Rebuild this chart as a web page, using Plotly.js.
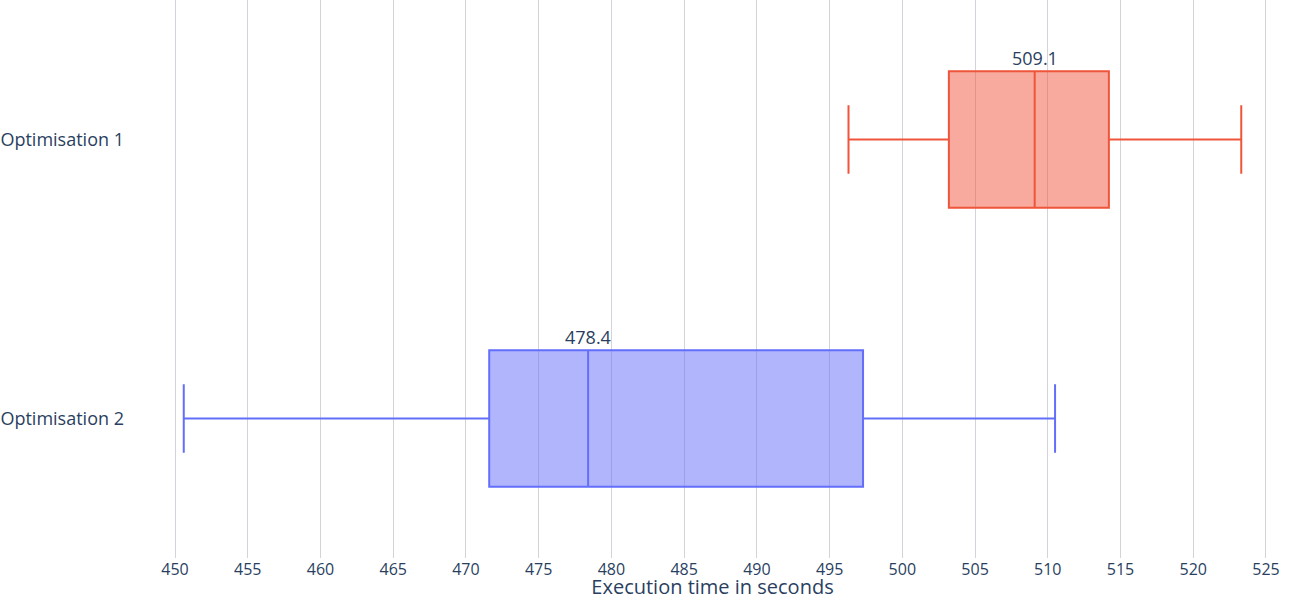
<!DOCTYPE html>
<html>
<head>
<meta charset="utf-8">
<script src="https://cdn.plot.ly/plotly-3.0.1.min.js"></script>
<style>html,body{margin:0;padding:0;background:#fff;}#chart{width:1300px;height:600px;}</style>
</head>
<body>
<div id="chart"></div>
<script>
// Data
const categories = ["Optimisation 2", "Optimisation 1"];
const lowerFence = [450.6, 496.3];
const q1Values = [471.6, 503.2];
const medianValues = [478.4, 509.1];
const q3Values = [497.3, 514.2];
const upperFence = [510.5, 523.3];
const colors = ["#636EFA", "#EF553B"];

const traces = categories.map((c, i) => ({
  type: "box",
  orientation: "h",
  name: c,
  y: [c],
  lowerfence: [lowerFence[i]],
  q1: [q1Values[i]],
  median: [medianValues[i]],
  q3: [q3Values[i]],
  upperfence: [upperFence[i]],
  marker: {color: colors[i]},
  line: {color: colors[i], width: 2},
  whiskerwidth: 0.5,
  hoverinfo: "x"
}));

const annotations = categories.map((c, i) => ({
  x: medianValues[i],
  y: c,
  xref: "x",
  yref: "y",
  text: medianValues[i].toFixed(1),
  showarrow: false,
  yshift: 82,
  font: {size: 18, color: "#2a3f5f"}
}));

const layout = {
  width: 1300,
  height: 600,
  margin: {l: 125, r: 0, t: 0, b: 42, pad: 0},
  paper_bgcolor: "#fff",
  plot_bgcolor: "#fff",
  font: {family: "Open Sans, verdana, arial, sans-serif", size: 16, color: "#2a3f5f"},
  showlegend: false,
  xaxis: {
    title: {text: "Execution time in seconds", font: {size: 20}, standoff: 0},
    dtick: 5,
    tick0: 450,
    showgrid: true,
    gridcolor: "#d3d3da",
    gridwidth: 1,
    zeroline: false,
    showline: false,
    ticks: "",
    tickfont: {size: 16},
    automargin: false
  },
  yaxis: {
    type: "category",
    showgrid: false,
    zeroline: false,
    showline: false,
    ticks: "",
    tickfont: {size: 18},
    automargin: false
  },
  annotations: annotations
};

Plotly.newPlot("chart", traces, layout, {displayModeBar: false, staticPlot: true});
</script>
</body>
</html>
